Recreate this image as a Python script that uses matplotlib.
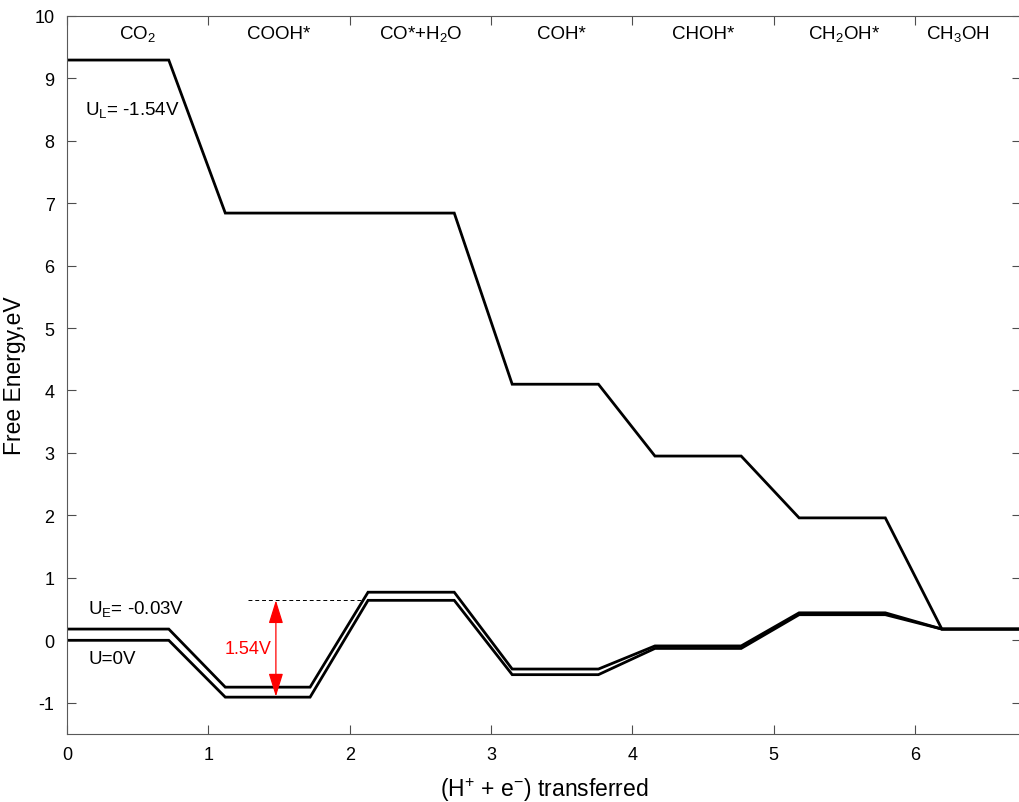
import matplotlib
matplotlib.use("Agg")
import matplotlib.pyplot as plt
import numpy as np

plt.rcParams["font.family"] = ["Liberation Sans", "DejaVu Sans"]
plt.rcParams["mathtext.fontset"] = "custom"
plt.rcParams["mathtext.rm"] = "Liberation Sans"
plt.rcParams["mathtext.it"] = "Liberation Sans:italic"
plt.rcParams["mathtext.default"] = "regular"
plt.rcParams["axes.unicode_minus"] = False

# reaction intermediates along the CO2 -> CH3OH pathway
states = ["CO$_2$", "COOH*", "CO*+H$_2$O", "COH*", "CHOH*", "CH$_2$OH*", "CH$_3$OH"]
state_x = [0.5, 1.5, 2.5, 3.5, 4.5, 5.5, 6.3]

# horizontal extent of each free-energy level
level_start = [0.0, 1.12, 2.13, 3.15, 4.16, 5.18, 6.19]
level_end = [0.72, 1.72, 2.74, 3.76, 4.77, 5.79, 6.75]

# free energies (eV) at U = 0, U_E = -0.03 V and U_L = -1.54 V
g_u0 = [0.00, -0.91, 0.64, -0.55, -0.13, 0.41, 0.18]
g_ue = [0.18, -0.75, 0.77, -0.46, -0.09, 0.44, 0.18]
g_ul = [9.29, 6.84, 6.84, 4.10, 2.95, 1.96, 0.18]

gap_bottom = -0.90
gap_value = 1.54


def profile(levels):
    xs, ys = [], []
    for x0, x1, g in zip(level_start, level_end, levels):
        xs += [x0, x1]
        ys += [g, g]
    return xs, ys


fig = plt.figure(figsize=(10.19, 8.03), dpi=100)
ax = fig.add_axes([67 / 1019, 1 - 735 / 803, (1021 - 67) / 1019, (735 - 16.7) / 803])

for levels in (g_ul, g_ue, g_u0):
    xs, ys = profile(levels)
    ax.plot(xs, ys, color="black", lw=2.0, solid_joinstyle="miter")

ax.set_xlim(0, 6.75)
ax.set_ylim(-1.5, 10)
ax.set_xticks(np.arange(0, 7))
ax.set_yticks(np.arange(-1, 11))
ax.tick_params(direction="in", length=6.5, width=0.8, color="0.3",
               labelsize=13, top=True, right=True, pad=9)
for spine in ax.spines.values():
    spine.set_color("0.35")
    spine.set_linewidth(0.8)

for name, x in zip(states, state_x):
    ax.text(x, 9.64, name, ha="center", va="baseline", fontsize=13.5)

ax.text(0.125, 8.43, r"U$_{L}$= -1.54V", fontsize=13.5, va="baseline")
ax.text(0.15, 0.43, r"U$_{E}$= -0.03V", fontsize=13.5, va="baseline")
ax.text(0.15, -0.36, "U=0V", fontsize=13.5, va="baseline")

# limiting-potential gap marker
gap_top = gap_bottom + gap_value
ax.plot([1.28, 2.09], [gap_top, gap_top], color="black", lw=0.7, ls=(0, (4, 3)))
ax.annotate("", xy=(1.478, gap_top), xytext=(1.478, gap_bottom),
            arrowprops=dict(arrowstyle="<|-|>,head_length=0.8,head_width=0.25",
                            mutation_scale=18, color="red", lw=0.9,
                            shrinkA=0, shrinkB=0))
ax.text(1.45, -0.21, f"{gap_value:.2f}V", color="red", ha="right",
        va="baseline", fontsize=13)

ax.set_ylabel("Free Energy,eV", fontsize=16.5, labelpad=6)
ax.set_xlabel(r"(H$^{+}$ + e$^{-}$) transferred", fontsize=16.5, labelpad=8)

fig.savefig("out.png", dpi=100)
